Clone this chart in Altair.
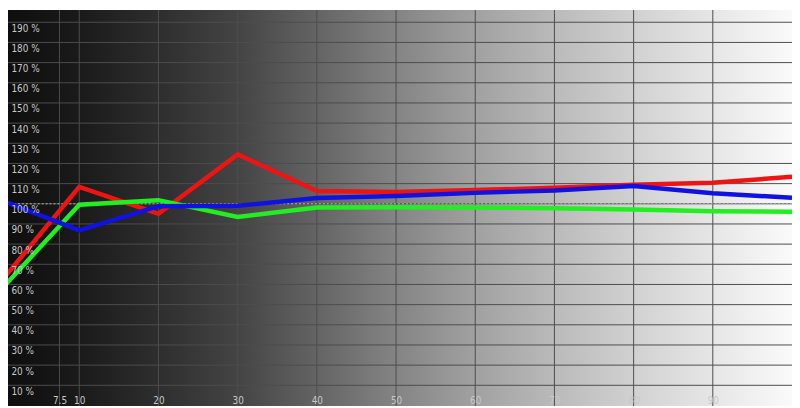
import altair as alt
import pandas as pd

# ---- data ----
levels = [0, 10, 20, 30, 40, 50, 60, 70, 80, 90, 100]
red = [61, 108.4, 95, 124.5, 106.3, 105.8, 106.8, 107.9, 109.4, 110.4, 113.4]
green = [57, 99.5, 101.8, 93.5, 98.2, 98.3, 98.2, 97.8, 97.2, 96.3, 96.1]
blue = [102, 86.8, 98.8, 99, 102.9, 103.9, 105.4, 106.6, 108.8, 105.2, 103]
x_ticks = [7.5, 10, 20, 30, 40, 50, 60, 70, 80, 90]
y_ticks = [10, 20, 30, 40, 50, 60, 70, 80, 90, 100, 110, 120, 130, 140, 150, 160, 170, 180, 190]
target = [100]

# ---- styling ----
W, H = 792, 400
FONT = "Liberation Sans Narrow, DejaVu Sans Condensed, Arial, sans-serif"
GRID = "#4d4d4d"
bg_px = [8, 80, 160, 240, 320, 400, 480, 560, 640, 720, 800]
bg_col = ["#0e0e0e", "#1a1a1a", "#2e2e2e", "#444444", "#646464", "#848484",
          "#a1a1a1", "#bababa", "#d1d1d1", "#e6e6e6", "#fafafa"]
gradient = alt.LinearGradient(
    gradient="linear", x1=0, x2=1, y1=0, y2=0,
    stops=[alt.GradientStop(offset=(p - 8) / 792, color=c) for p, c in zip(bg_px, bg_col)],
)

xscale = alt.Scale(domain=[1, 100], nice=False, zero=False)
yscale = alt.Scale(domain=[-0.25, 196.07], nice=False, zero=False)

X = alt.X("level:Q", scale=xscale, title=None,
          axis=alt.Axis(values=x_ticks, grid=False, ticks=False, tickSize=0, domain=False,
                        labelColor="#c8c8c8", labelFont=FONT, labelFontSize=10,
                        labelPadding=-2, labelBaseline="alphabetic", zindex=1,
                        labelFlush=False, labelExpr="'' + datum.value"))
Y = alt.Y("value:Q", scale=yscale, title=None,
          axis=alt.Axis(values=y_ticks, grid=False, ticks=False, tickSize=0, domain=False,
                        labelColor="#c8c8c8", labelFont=FONT, labelFontSize=10,
                        labelPadding=-3, labelAlign="left", labelBaseline="top",
                        labelOffset=1, zindex=1, labelFlush=False,
                        labelExpr="datum.value + ' %'"))

background = alt.Chart(pd.DataFrame({"a": [0]})).mark_rect(fill=gradient).encode(
    x=alt.value(0), x2=alt.value("width"), y=alt.value(0), y2=alt.value("height")
)

vgrid = alt.Chart(pd.DataFrame({"level": x_ticks})).mark_rule(
    color=GRID, strokeWidth=1
).encode(x=X)

hgrid = alt.Chart(pd.DataFrame({"value": y_ticks})).mark_rule(
    color=GRID, strokeWidth=1
).encode(y=Y)

ref = alt.Chart(pd.DataFrame({"value": target})).mark_rule(
    color="#b4b4b4", strokeWidth=1, strokeDash=[2, 2]
).encode(y=Y)

def line(vals, col):
    return alt.Chart(pd.DataFrame({"level": levels, "value": vals})).mark_line(
        color=col, strokeWidth=4.5, clip=True, strokeJoin="miter"
    ).encode(x=X, y=Y)

chart = alt.layer(
    background,
    vgrid,
    hgrid,
    ref,
    line(red, "#ee1414"),
    line(green, "#22ee22"),
    line(blue, "#1212e0"),
).properties(
    width=W, height=H, padding=0,
    autosize=alt.AutoSizeParams(type="none"),
).configure_view(stroke=None)

chart.save("out.html", embed_options={"renderer": "svg", "actions": False})
